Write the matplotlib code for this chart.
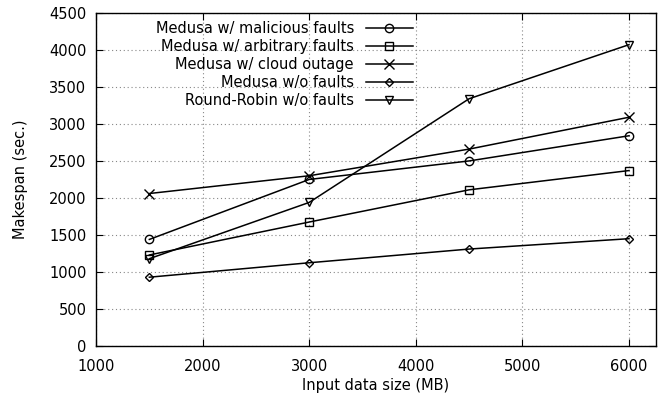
import numpy as np
import matplotlib
matplotlib.use("Agg")
import matplotlib.pyplot as plt

sizes = [1500, 3000, 4500, 6000]

malicious = [1440, 2250, 2500, 2840]
arbitrary = [1230, 1675, 2110, 2370]
outage = [2060, 2300, 2660, 3090]
no_faults = [930, 1125, 1310, 1450]
round_robin = [1180, 1940, 3340, 4070]

labels = ["Medusa w/ malicious faults", "Medusa w/ arbitrary faults",
          "Medusa w/ cloud outage", "Medusa w/o faults",
          "Round-Robin w/o faults"]
markers = ["o", "s", "x", "D", "v"]
sizes_mk = [6, 5.5, 7, 4, 5.5]

plt.rcParams['font.family'] = ['DejaVu Sans']
plt.rcParams['font.size'] = 10.5

fig = plt.figure(figsize=(6.67, 4.01), dpi=100)
ax = fig.add_axes([0.144, 0.137, 0.839, 0.831])

series = [malicious, arbitrary, outage, no_faults, round_robin]
for vals, lab, mk, ms in zip(series, labels, markers, sizes_mk):
    ax.plot(sizes, vals, color="black", lw=1.1, marker=mk, ms=ms,
            mfc="none", mec="black", mew=1.0, label=lab)

ax.set_xlim(1000, 6250)
ax.set_ylim(0, 4500)
ax.set_xticks(np.arange(1000, 6001, 1000))
ax.set_yticks(np.arange(0, 4501, 500))
ax.grid(True, color="#888888", linestyle=(0, (1, 2.5)), lw=0.8)
ax.tick_params(direction="in", top=True, right=True, length=5)
ax.tick_params(axis="x", pad=9)
ax.tick_params(axis="y", pad=7)
for s in ax.spines.values():
    s.set_linewidth(1.0)

ax.set_xlabel("Input data size (MB)", labelpad=3)
ax.set_ylabel("Makespan (sec.)", labelpad=15)

ax.legend(loc="upper right", bbox_to_anchor=(413 / 667, 1 - 21.5 / 401),
          bbox_transform=fig.transFigure, frameon=False, markerfirst=False,
          handlelength=3.25, labelspacing=0.2, borderpad=0, borderaxespad=0,
          handletextpad=0.8)

fig.savefig("out.png", dpi=100)
